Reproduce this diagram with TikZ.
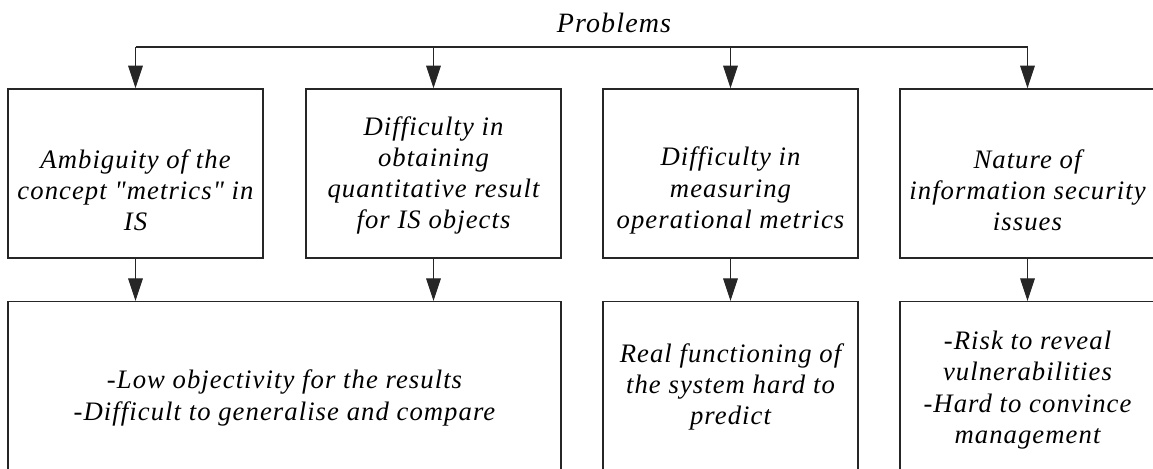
\documentclass[tikz,border=0pt]{standalone}
\usepackage{fontspec}
\setmainfont{Liberation Serif}[LetterSpace=4,Ligatures=TeXOff]
\usetikzlibrary{arrows.meta}
\tikzset{
  px/.style={x=0.75pt,y=-0.75pt},
  box/.style={draw=black!85,line width=1.1pt,rectangle,inner sep=0pt},
  topbox/.style={box,minimum width=191.25pt,minimum height=126.75pt},
  txt/.style={align=center,inner sep=0pt,font=\fontsize{20}{23.4}\selectfont\itshape},
  link/.style={draw=black!85,line width=0.8pt},
  arr/.style={link,-{Triangle[length=17pt,width=11pt]}}
}
\begin{document}
\begin{tikzpicture}[px]
  \useasboundingbox (0,0) rectangle (1153,468);
  \clip (0,0) rectangle (1153,468);

  % heading
  \node[txt,font=\fontsize{21}{24}\selectfont\itshape] (title) at (614,23) {Problems};

  % first row of boxes
  \node[topbox] (b1) at (135.5,173.5) {};
  \node[topbox] (b2) at (433.5,173.5) {};
  \node[topbox] (b3) at (730.5,173.5) {};
  \node[topbox] (b4) at (1027.5,173.5) {};

  \node[txt] (t1) at (135.5,190.5) {Ambiguity of the\\concept "metrics" in\\IS};
  \node[txt] (t2) at (433.5,175.5) {Difficulty in\\obtaining\\quantitative result\\for IS objects};
  \node[txt] (t3) at (730.5,190.5) {Difficulty in\\measuring\\operational metrics};
  \node[txt] (t4) at (1027.5,190.5) {Nature of\\information security\\issues};

  % second row of boxes (running off the lower edge)
  \node[box,minimum width=414.75pt,minimum height=132pt,anchor=north] (c1) at (284.5,301) {};
  \node[box,minimum width=191.25pt,minimum height=132pt,anchor=north] (c2) at (730.5,301) {};
  \node[box,minimum width=191.25pt,minimum height=132pt,anchor=north] (c3) at (1027.5,301) {};

  \node[txt] (u1) at (284.5,398) {-Low objectivity for the results\\-Difficult to generalise and compare};
  \node[txt] (u2) at (730.5,387) {Real functioning of\\the system hard to\\predict};
  \node[txt] (u3) at (1027.5,390) {-Risk to reveal\\vulnerabilities\\-Hard to convince\\management};

  % distribution bus under the heading
  \coordinate (s1) at (135.5,47);
  \coordinate (s2) at (433.5,47);
  \coordinate (s3) at (730.5,47);
  \coordinate (s4) at (1027.5,47);
  \draw[link] (s1) -- (s4);
  \foreach \i in {1,...,4} \draw[arr] (s\i) -- (b\i.north);

  % consequences
  \draw[arr] (b1.south) -- (b1.south |- c1.north);
  \draw[arr] (b2.south) -- (b2.south |- c1.north);
  \draw[arr] (b3.south) -- (c2.north);
  \draw[arr] (b4.south) -- (c3.north);
\end{tikzpicture}
\end{document}
